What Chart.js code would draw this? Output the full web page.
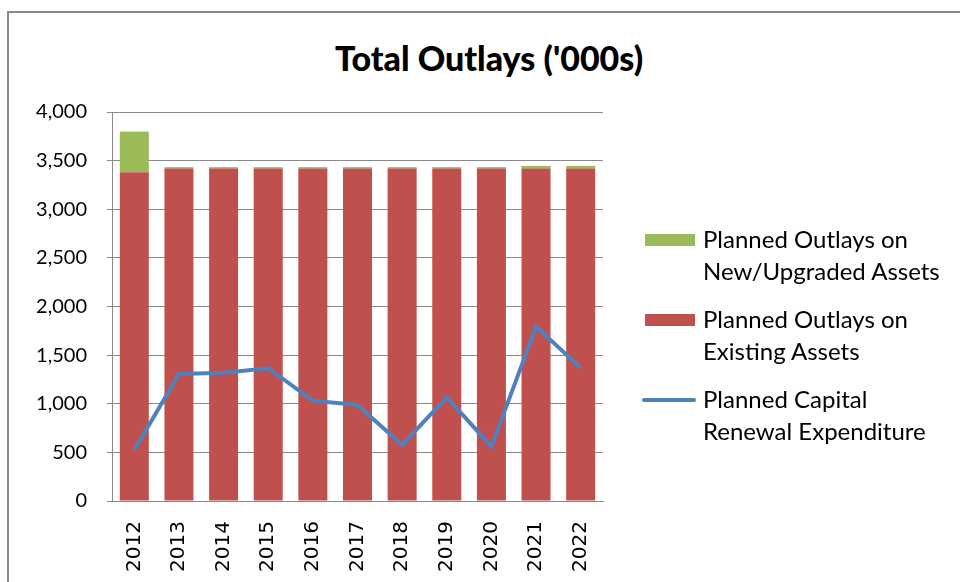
<!DOCTYPE html>
<html>
<head>
<meta charset="utf-8">
<script src="https://cdn.jsdelivr.net/npm/chart.js@4/dist/chart.umd.min.js"></script>
<style>
  html, body { margin: 0; padding: 0; background: #fff; overflow: hidden; }
  #wrap { position: relative; width: 960px; height: 582px; }
  #frame { position: absolute; left: 7px; top: 11px; width: 1000px; height: 700px; border: 2px solid #8a8a8a; box-sizing: border-box; }
  #title { position: absolute; left: 0; width: 978px; top: 37px; text-align: center; font: 900 34px Lato, sans-serif; color: #000; }
  #legend { position: absolute; left: 640px; top: 223px; font: 24px Lato, sans-serif; color: #000; }
  .item { position: relative; height: 80px; padding-left: 63px; line-height: 32px; }
  .swatch { position: absolute; left: 5px; }
  canvas { position: absolute; left: 0; top: 0; }
</style>
</head>
<body>
<div id="wrap">
  <div id="frame"></div>
  <div id="title">Total Outlays ('000s)</div>
  <canvas id="chart" width="960" height="582"></canvas>
  <div id="legend"></div>
</div>
<script>
// --- data ---
const years = ['2012', '2013', '2014', '2015', '2016', '2017', '2018', '2019', '2020', '2021', '2022'];
const newAssets = [418, 15, 15, 15, 15, 15, 15, 15, 15, 28, 28];
const existingAssets = [3381, 3418, 3418, 3418, 3418, 3418, 3418, 3418, 3418, 3418, 3418];
const renewal = [525, 1307, 1318, 1365, 1032, 988, 576, 1067, 559, 1793, 1371];
const yTicks = [0, 500, 1000, 1500, 2000, 2500, 3000, 3500, 4000];

const green = '#9BBB59', red = '#C0504D', blue = '#4F81BD';

const ctx = document.getElementById('chart').getContext('2d');
const chart = new Chart(ctx, {
    data: {
        labels: years,
        datasets: [
            { type: 'line', label: ['Planned Capital', 'Renewal Expenditure'], data: renewal,
              borderColor: blue, borderWidth: 4, pointRadius: 0, tension: 0, stack: 'line', order: 0 },
            { type: 'bar', label: ['Planned Outlays on', 'Existing Assets'], data: existingAssets,
              backgroundColor: red, stack: 'bars', order: 1, barPercentage: 0.65, categoryPercentage: 1 },
            { type: 'bar', label: ['Planned Outlays on', 'New/Upgraded Assets'], data: newAssets,
              backgroundColor: green, stack: 'bars', order: 1, barPercentage: 0.65, categoryPercentage: 1 }
        ]
    },
    options: {
        responsive: false,
        animation: false,
        layout: { padding: { top: 112, right: 357, bottom: 0, left: 0 } },
        plugins: { legend: { display: false }, tooltip: { enabled: false } },
        scales: {
            x: {
                stacked: true,
                grid: { display: false },
                border: { color: '#8a8a8a', width: 1 },
                ticks: { color: '#000', font: { family: 'DejaVu Sans', size: 20 }, minRotation: 90, maxRotation: 90, padding: 12 },
                afterFit: s => { s.height = 81; }
            },
            y: {
                stacked: true,
                min: 0, max: 4000,
                afterBuildTicks: s => { s.ticks = yTicks.map(v => ({ value: v })); },
                grid: { color: '#8a8a8a', lineWidth: 1, tickLength: 5 },
                border: { color: '#8a8a8a', width: 1 },
                ticks: { color: '#000', font: { family: 'Lato', size: 20 }, padding: 20,
                         callback: v => v.toLocaleString('en-US') },
                afterFit: s => { s.width = 112; }
            }
        }
    }
});

// legend on the right, built from the datasets (green, red, blue order)
const legendOrder = [2, 1, 0];
const legendEl = document.getElementById('legend');
legendOrder.forEach(i => {
    const ds = chart.data.datasets[i];
    const item = document.createElement('div');
    item.className = 'item';
    const sw = document.createElement('div');
    sw.className = 'swatch';
    if (ds.type === 'line') {
        sw.style.cssText = 'left:2px;top:15px;width:54px;height:4px;border-radius:2px;background:' + ds.borderColor;
    } else {
        sw.style.cssText = 'top:11px;width:50px;height:12px;background:' + ds.backgroundColor;
    }
    item.appendChild(sw);
    item.appendChild(document.createTextNode(ds.label[0]));
    item.appendChild(document.createElement('br'));
    item.appendChild(document.createTextNode(ds.label[1]));
    legendEl.appendChild(item);
});
</script>
</body>
</html>
